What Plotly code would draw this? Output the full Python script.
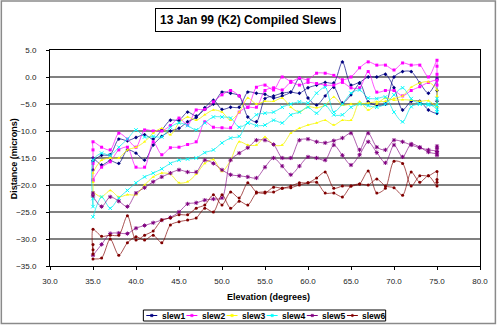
import plotly.graph_objects as go

# ---------------- data ----------------
ELEV = [35, 36, 37, 38, 39, 40, 41, 42, 43, 44, 45, 46, 47, 48, 49, 50, 51, 52, 53, 54,
        55, 56, 57, 58, 59, 60, 61, 62, 63, 64, 65, 66, 67, 68, 69, 70, 71, 72, 73, 74, 75]

SERIES = ["slew1", "slew2", "slew3", "slew4", "slew5", "slew6"]

# repeated readings at the start (35 deg) and at the top (75 deg)
slew1_start = [-17.2, -15.7]
slew1_up = [-15.0, -16.3, -15.5, -16.0, -13.5, -14.1, -15.4, -12.6, -11.0, -10.0, -9.5, -8.3, -7.5, -6.0, -5.0,
            -2.8, -3.0, -3.5, -7.4, -8.3, -4.0, -3.5, -3.0, -2.8, -3.0, -2.0, -1.5, -1.0, -1.1, 2.8, -1.5, -1.1,
            -4.6, -5.2, -5.0, 0.0, 1.0, 1.0, -1.1, -3.0, -0.5]
slew1_top = [-0.2, -2.5, -4.5]
slew1_down = [-15.5, -14.5, -14.4, -11.5, -11.8, -11.2, -10.7, -11.5, -9.8, -8.0, -8.0, -6.5, -7.2, -5.7, -4.3,
              -6.0, -5.6, -5.6, -2.8, -3.0, -3.2, -3.9, -3.5, -2.8, -0.2, -3.9, -5.2, -3.5, -1.9, -4.8, -3.3, -1.1,
              0.0, 0.0, 0.5, -2.0, -6.1, -4.5, -4.5, -6.1, -6.7]

slew2_start = [-19.2, -16.0, -13.5]
slew2_up = [-12.0, -13.0, -13.5, -10.4, -11.5, -13.0, -9.8, -10.0, -10.0, -9.0, -7.6, -8.9, -6.1, -6.0, -4.6,
            -3.3, -2.5, -3.5, -5.6, -1.9, -1.5, -2.4, 0.0, -0.8, -0.2, -0.5, 0.7, 0.7, 0.3, -0.5, 0.0, 1.7,
            2.8, 2.2, 2.2, 1.3, 2.6, 2.2, 2.2, 0.0, 3.1]
slew2_top = [2.0, 0.5, -1.5]
slew2_down = [-19.0, -16.7, -15.7, -13.5, -13.0, -16.7, -16.7, -12.0, -14.4, -13.1, -13.0, -12.5, -12.0, -8.3, -9.3,
              -9.4, -9.4, -6.5, -5.6, -5.6, -2.5, -2.0, -2.4, -1.0, -1.5, -1.0, -1.2, -1.5, -1.5, -1.0, -2.0, -2.0,
              1.0, -2.8, -2.5, -2.5, -3.5, -2.5, -1.8, -1.0, -0.6]

slew3_start = [-22.0, -19.5]
slew3_up = [-17.8, -15.4, -15.0, -15.0, -13.5, -13.0, -12.0, -10.4, -9.5, -10.7, -8.5, -7.4, -8.0, -7.0, -6.1,
            -6.5, -8.0, -6.5, -3.9, -5.0, -4.5, -4.5, -3.9, -5.6, -6.5, -5.5, -5.7, -5.2, -3.7, -5.2, -5.0, -5.0,
            -4.8, -4.6, -4.5, -4.0, -3.5, -1.9, -1.1, -0.9, -2.4]
slew3_top = [-3.5, -5.0]
slew3_down = [-21.3, -22.2, -21.0, -22.2, -21.8, -21.8, -20.0, -18.5, -17.8, -18.0, -19.6, -19.4, -18.0, -16.0, -15.3,
              -17.5, -15.4, -12.0, -12.6, -12.6, -11.1, -12.6, -12.6, -10.4, -9.5, -8.9, -8.5, -8.0, -8.9, -8.0,
              -8.0, -4.6, -6.1, -5.0, -3.9, -4.3, -4.2, -4.3, -4.5, -4.4, -5.5]

slew4_start = [-22.5, -24.0]
slew4_up = [-15.4, -14.1, -14.5, -13.0, -11.5, -9.8, -11.1, -11.0, -11.1, -9.3, -8.5, -9.0, -9.8, -8.5, -7.4,
            -7.4, -7.6, -9.3, -8.5, -7.0, -6.7, -6.5, -5.6, -5.0, -4.6, -4.8, -3.0, -1.9, -6.5, -5.0, -3.0, -2.4,
            -3.9, -4.0, -3.7, -6.5, -8.3, -5.5, -5.0, -5.2, -5.2]
slew4_top = [-4.0, -6.5]
slew4_down = [-25.9, -22.2, -24.3, -22.4, -21.0, -19.6, -18.5, -17.8, -17.0, -16.0, -15.4, -15.2, -15.0, -14.0, -13.5,
              -12.2, -11.3, -11.0, -8.5, -9.0, -8.9, -8.0, -8.5, -7.0, -6.5, -5.6, -6.7, -5.2, -7.0, -7.0, -5.6,
              -5.0, -5.3, -5.6, -5.0, -3.3, -2.0, -4.0, -5.0, -5.0, -6.0]

slew5_start = [-21.5]
slew5_up = [-22.0, -24.0, -22.2, -23.0, -24.0, -21.5, -20.5, -19.4, -18.5, -17.8, -17.2, -17.6, -17.6, -15.4, -16.0,
            -17.2, -18.1, -18.3, -18.5, -18.7, -16.7, -15.0, -16.5, -18.1, -16.5, -14.8, -15.0, -15.4, -12.6, -14.5,
            -16.3, -14.4, -12.0, -14.0, -15.9, -12.6, -14.8, -12.4, -13.0, -13.9, -14.1]
slew5_top = [-12.8, -13.2, -14.5]
slew5_down = [-33.0, -31.0, -29.0, -28.9, -29.0, -28.0, -27.5, -27.0, -26.5, -26.0, -25.0, -23.5, -23.3, -22.8, -22.6,
              -22.4, -15.4, -14.1, -13.1, -11.7, -11.7, -12.5, -15.0, -15.0, -11.7, -11.5, -12.0, -12.2, -11.8, -11.3,
              -10.4, -13.5, -10.4, -13.0, -13.5, -11.7, -12.0, -12.6, -13.1, -13.5, -13.8]

slew6_start = [-31.0, -32.0, -32.8]
slew6_up = [-28.2, -29.5, -29.3, -29.3, -25.7, -30.2, -29.3, -28.5, -26.5, -26.1, -25.5, -25.5, -24.3, -23.7, -21.8,
            -23.7, -21.3, -22.4, -19.6, -21.3, -21.5, -20.4, -20.6, -20.2, -19.6, -19.6, -18.7, -17.6, -20.6, -20.2,
            -20.2, -19.8, -17.4, -21.5, -20.6, -15.6, -16.0, -20.2, -18.3, -18.3, -17.5]
slew6_top = [-19.0, -19.5]
slew6_down = [-33.7, -33.5, -30.0, -33.0, -30.7, -29.6, -30.2, -29.3, -30.7, -27.4, -26.8, -26.5, -26.1, -24.3, -25.0,
              -21.8, -24.3, -23.0, -23.7, -21.5, -21.3, -21.3, -20.6, -20.5, -20.0, -19.6, -19.5, -21.5, -21.5, -22.2,
              -20.2, -19.8, -20.0, -18.9, -20.2, -20.5, -21.9, -17.6, -19.5, -18.3, -20.2]

DATA = {
    "slew1": (slew1_start, slew1_up, slew1_top, slew1_down),
    "slew2": (slew2_start, slew2_up, slew2_top, slew2_down),
    "slew3": (slew3_start, slew3_up, slew3_top, slew3_down),
    "slew4": (slew4_start, slew4_up, slew4_top, slew4_down),
    "slew5": (slew5_start, slew5_up, slew5_top, slew5_down),
    "slew6": (slew6_start, slew6_up, slew6_top, slew6_down),
}

X_TICKS = [30, 35, 40, 45, 50, 55, 60, 65, 70, 75, 80]
Y_TICKS = [5, 0, -5, -10, -15, -20, -25, -30, -35]

# ---------------- styles ----------------
COLORS = {"slew1": "#000080", "slew2": "#FF00FF", "slew3": "#FFFF00",
          "slew4": "#00FFFF", "slew5": "#800080", "slew6": "#800000"}
LINE_COLORS = {"slew1": "rgba(0,0,128,0.75)", "slew2": "rgba(255,0,255,0.75)", "slew3": "rgba(240,240,0,0.85)",
               "slew4": "rgba(0,230,230,0.75)", "slew5": "rgba(128,0,128,0.7)", "slew6": "rgba(128,0,0,0.75)"}
SYMBOLS = {"slew1": "diamond", "slew2": "square", "slew3": "triangle-up",
           "slew4": "x-thin-open", "slew5": "asterisk-open", "slew6": "circle"}
FONT = "Arial, 'Liberation Sans', sans-serif"

W, H = 500, 325
L, R, T, B = 50, 17, 50, 59
PW, PH = W - L - R, H - T - B


def pxx(px):
    return (px - L) / PW


def pxy(py):
    return (H - B - py) / PH


fig = go.Figure()
for name in SERIES:
    start, up, top, down = DATA[name]
    xs = [ELEV[0]] * len(start) + ELEV + [ELEV[-1]] * len(top) + ELEV[::-1]
    ys = start + up + top + down[::-1]
    open_sym = SYMBOLS[name].endswith("open")
    fig.add_trace(go.Scatter(
        x=xs, y=ys, mode="lines+markers", name=name, showlegend=False,
        line=dict(color=LINE_COLORS[name], width=0.9, shape="spline", smoothing=0.8),
        marker=dict(color=COLORS[name], symbol=SYMBOLS[name], size=3 if not open_sym else 3.5,
                    line=dict(color=COLORS[name], width=1 if open_sym else 0)),
    ))

shapes = []
annotations = []

# outer chart border
shapes.append(dict(type="rect", xref="paper", yref="paper",
                   x0=pxx(1), x1=pxx(498.5), y0=pxy(323.5), y1=pxy(1),
                   line=dict(color="#8a8a8a", width=1.5), fillcolor="rgba(0,0,0,0)", layer="below"))

# title in a box
annotations.append(dict(text="<b>13 Jan 99 (K2) Compiled Slews</b>", xref="paper", yref="paper",
                        x=pxx(249.5), y=pxy(19.7), xanchor="center", yanchor="middle", showarrow=False,
                        font=dict(family=FONT, size=12, color="black"),
                        bordercolor="black", borderwidth=1, borderpad=4, bgcolor="white"))

# axis titles
annotations.append(dict(text="<b>Elevation (degrees)</b>", xref="paper", yref="paper",
                        x=pxx(270), y=pxy(297), xanchor="center", yanchor="middle", showarrow=False,
                        font=dict(family=FONT, size=9, color="black")))
annotations.append(dict(text="<b>Distance (microns)</b>", xref="paper", yref="paper",
                        x=pxx(14), y=pxy(159), xanchor="center", yanchor="middle", showarrow=False,
                        textangle=-90, font=dict(family=FONT, size=9, color="black")))

# legend (compact, Excel-like)
shapes.append(dict(type="rect", xref="paper", yref="paper",
                   x0=pxx(144), x1=pxx(388), y0=pxy(321), y1=pxy(310),
                   line=dict(color="black", width=1), fillcolor="white"))
LEG_Y = 315.5
LEG_STEP = 40.4
for i, name in enumerate(SERIES):
    x0 = 147 + LEG_STEP * i
    shapes.append(dict(type="line", xref="paper", yref="paper",
                       x0=pxx(x0), x1=pxx(x0 + 11), y0=pxy(LEG_Y), y1=pxy(LEG_Y),
                       line=dict(color=COLORS[name], width=1)))
    cx = x0 + 5.5
    shapes.append(dict(type="circle" if name == "slew6" else "rect", xref="paper", yref="paper",
                       x0=pxx(cx - 1.2), x1=pxx(cx + 1.2), y0=pxy(LEG_Y + 1.2), y1=pxy(LEG_Y - 1.2),
                       line=dict(color=COLORS[name], width=0.5), fillcolor=COLORS[name]))
    annotations.append(dict(text="<b>%s</b>" % name, xref="paper", yref="paper",
                            x=pxx(x0 + 13.5), y=pxy(LEG_Y), xanchor="left", yanchor="middle",
                            showarrow=False, font=dict(family=FONT, size=8.5, color="black")))

fig.update_layout(
    width=W, height=H,
    margin=dict(l=L, r=R, t=T, b=B, pad=0),
    paper_bgcolor="white", plot_bgcolor="white",
    showlegend=False,
    font=dict(family=FONT, size=8, color="#222"),
    shapes=shapes, annotations=annotations,
    xaxis=dict(range=[30, 80], tickvals=X_TICKS, tickformat=".1f", showgrid=False, zeroline=False,
               showline=True, linecolor="black", linewidth=1, mirror=True,
               ticks="outside", ticklen=3, tickcolor="black", ticklabelstandoff=4,
               tickfont=dict(family=FONT, size=8, color="#222")),
    yaxis=dict(range=[-35, 5], tickvals=Y_TICKS, tickformat=".1f", showgrid=True,
               gridcolor="#808080", gridwidth=1.5, zeroline=False,
               showline=True, linecolor="black", linewidth=1, mirror=True,
               ticks="outside", ticklen=3, tickcolor="black", ticklabelstandoff=8,
               tickfont=dict(family=FONT, size=8, color="#222")),
)

fig.write_html("out.html")
